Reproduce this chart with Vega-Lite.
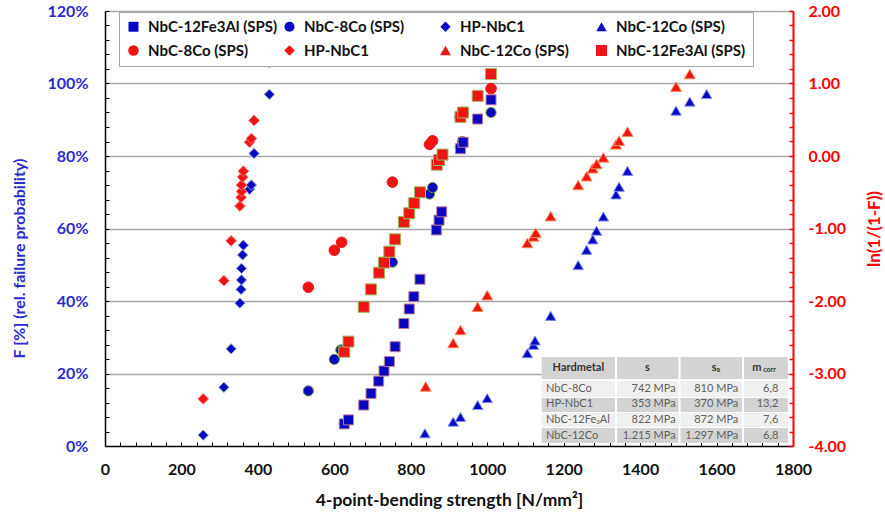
{
  "$schema": "https://vega.github.io/schema/vega-lite/v6.json",
  "width": 688,
  "height": 435,
  "autosize": {"type": "none"},
  "padding": {"left": 105, "top": 11, "right": 92, "bottom": 69},
  "background": "white",
  "config": {
    "view": {"stroke": null},
    "font": "Lato",
    "legend": {
      "orient": "none",
      "legendX": 14,
      "legendY": 1,
      "columns": 4,
      "direction": "horizontal",
      "gridAlign": "all",
      "columnPadding": 4,
      "rowPadding": 8,
      "padding": 7,
      "strokeColor": "#a6a6a6",
      "fillColor": "white",
      "labelFont": "Lato",
      "labelFontSize": 15,
      "labelFontWeight": "bold",
      "labelColor": "#111111",
      "labelOffset": 7,
      "symbolSize": 64,
      "symbolStrokeWidth": 0,
      "title": null
    }
  },
  "datasets": {
    "pts": [
      {"s": "B|HP-NbC1", "x": 257, "v": 3.0},
      {"s": "B|HP-NbC1", "x": 311, "v": 16.2},
      {"s": "B|HP-NbC1", "x": 330, "v": 26.8},
      {"s": "B|HP-NbC1", "x": 353, "v": 39.4},
      {"s": "B|HP-NbC1", "x": 356, "v": 43.2},
      {"s": "B|HP-NbC1", "x": 357, "v": 45.8},
      {"s": "B|HP-NbC1", "x": 357, "v": 49.0},
      {"s": "B|HP-NbC1", "x": 360, "v": 52.7},
      {"s": "B|HP-NbC1", "x": 362, "v": 55.4},
      {"s": "B|HP-NbC1", "x": 378, "v": 70.8},
      {"s": "B|HP-NbC1", "x": 383, "v": 72.0},
      {"s": "B|HP-NbC1", "x": 390, "v": 80.7},
      {"s": "B|HP-NbC1", "x": 430, "v": 97.0},
      {"s": "B|NbC-8Co (SPS)", "x": 532, "v": 15.2},
      {"s": "B|NbC-8Co (SPS)", "x": 600, "v": 23.9},
      {"s": "B|NbC-8Co (SPS)", "x": 617, "v": 26.5},
      {"s": "B|NbC-8Co (SPS)", "x": 752, "v": 50.7},
      {"s": "B|NbC-8Co (SPS)", "x": 849, "v": 69.5},
      {"s": "B|NbC-8Co (SPS)", "x": 857, "v": 71.3},
      {"s": "B|NbC-8Co (SPS)", "x": 929, "v": 82.5},
      {"s": "B|NbC-8Co (SPS)", "x": 935, "v": 84.0},
      {"s": "B|NbC-8Co (SPS)", "x": 1010, "v": 92.0},
      {"s": "B|NbC-12Fe3Al (SPS)", "x": 626, "v": 6.1},
      {"s": "B|NbC-12Fe3Al (SPS)", "x": 637, "v": 7.2},
      {"s": "B|NbC-12Fe3Al (SPS)", "x": 677, "v": 11.3},
      {"s": "B|NbC-12Fe3Al (SPS)", "x": 696, "v": 14.5},
      {"s": "B|NbC-12Fe3Al (SPS)", "x": 716, "v": 17.9},
      {"s": "B|NbC-12Fe3Al (SPS)", "x": 730, "v": 20.7},
      {"s": "B|NbC-12Fe3Al (SPS)", "x": 744, "v": 23.3},
      {"s": "B|NbC-12Fe3Al (SPS)", "x": 759, "v": 27.4},
      {"s": "B|NbC-12Fe3Al (SPS)", "x": 782, "v": 33.8},
      {"s": "B|NbC-12Fe3Al (SPS)", "x": 796, "v": 37.8},
      {"s": "B|NbC-12Fe3Al (SPS)", "x": 808, "v": 41.2},
      {"s": "B|NbC-12Fe3Al (SPS)", "x": 824, "v": 46.0},
      {"s": "B|NbC-12Fe3Al (SPS)", "x": 867, "v": 59.6},
      {"s": "B|NbC-12Fe3Al (SPS)", "x": 874, "v": 62.3},
      {"s": "B|NbC-12Fe3Al (SPS)", "x": 881, "v": 64.6},
      {"s": "B|NbC-12Fe3Al (SPS)", "x": 930, "v": 82.0},
      {"s": "B|NbC-12Fe3Al (SPS)", "x": 937, "v": 83.8},
      {"s": "B|NbC-12Fe3Al (SPS)", "x": 975, "v": 90.2},
      {"s": "B|NbC-12Fe3Al (SPS)", "x": 1010, "v": 95.5},
      {"s": "B|NbC-12Co (SPS)", "x": 837, "v": 3.5},
      {"s": "B|NbC-12Co (SPS)", "x": 911, "v": 6.7},
      {"s": "B|NbC-12Co (SPS)", "x": 930, "v": 8.0},
      {"s": "B|NbC-12Co (SPS)", "x": 975, "v": 11.3},
      {"s": "B|NbC-12Co (SPS)", "x": 1000, "v": 13.2},
      {"s": "B|NbC-12Co (SPS)", "x": 1105, "v": 25.6},
      {"s": "B|NbC-12Co (SPS)", "x": 1121, "v": 27.9},
      {"s": "B|NbC-12Co (SPS)", "x": 1125, "v": 29.1},
      {"s": "B|NbC-12Co (SPS)", "x": 1166, "v": 35.9},
      {"s": "B|NbC-12Co (SPS)", "x": 1238, "v": 49.9},
      {"s": "B|NbC-12Co (SPS)", "x": 1260, "v": 54.1},
      {"s": "B|NbC-12Co (SPS)", "x": 1276, "v": 57.0},
      {"s": "B|NbC-12Co (SPS)", "x": 1286, "v": 59.4},
      {"s": "B|NbC-12Co (SPS)", "x": 1304, "v": 63.3},
      {"s": "B|NbC-12Co (SPS)", "x": 1337, "v": 69.4},
      {"s": "B|NbC-12Co (SPS)", "x": 1345, "v": 71.5},
      {"s": "B|NbC-12Co (SPS)", "x": 1367, "v": 75.9},
      {"s": "B|NbC-12Co (SPS)", "x": 1494, "v": 92.5},
      {"s": "B|NbC-12Co (SPS)", "x": 1530, "v": 95.0},
      {"s": "B|NbC-12Co (SPS)", "x": 1574, "v": 97.1},
      {"s": "R|HP-NbC1", "x": 257, "v": -3.35},
      {"s": "R|HP-NbC1", "x": 311, "v": -1.72},
      {"s": "R|HP-NbC1", "x": 330, "v": -1.17},
      {"s": "R|HP-NbC1", "x": 353, "v": -0.69},
      {"s": "R|HP-NbC1", "x": 356, "v": -0.57},
      {"s": "R|HP-NbC1", "x": 357, "v": -0.49},
      {"s": "R|HP-NbC1", "x": 357, "v": -0.40},
      {"s": "R|HP-NbC1", "x": 360, "v": -0.29},
      {"s": "R|HP-NbC1", "x": 362, "v": -0.21},
      {"s": "R|HP-NbC1", "x": 378, "v": 0.19},
      {"s": "R|HP-NbC1", "x": 383, "v": 0.24},
      {"s": "R|HP-NbC1", "x": 390, "v": 0.49},
      {"s": "R|HP-NbC1", "x": 430, "v": 1.29},
      {"s": "R|NbC-8Co (SPS)", "x": 532, "v": -1.81},
      {"s": "R|NbC-8Co (SPS)", "x": 600, "v": -1.30},
      {"s": "R|NbC-8Co (SPS)", "x": 619, "v": -1.19},
      {"s": "R|NbC-8Co (SPS)", "x": 752, "v": -0.36},
      {"s": "R|NbC-8Co (SPS)", "x": 849, "v": 0.16},
      {"s": "R|NbC-8Co (SPS)", "x": 857, "v": 0.21},
      {"s": "R|NbC-8Co (SPS)", "x": 929, "v": 0.54},
      {"s": "R|NbC-8Co (SPS)", "x": 935, "v": 0.60},
      {"s": "R|NbC-8Co (SPS)", "x": 1010, "v": 0.93},
      {"s": "R|NbC-12Fe3Al (SPS)", "x": 626, "v": -2.70},
      {"s": "R|NbC-12Fe3Al (SPS)", "x": 637, "v": -2.56},
      {"s": "R|NbC-12Fe3Al (SPS)", "x": 677, "v": -2.08},
      {"s": "R|NbC-12Fe3Al (SPS)", "x": 696, "v": -1.84},
      {"s": "R|NbC-12Fe3Al (SPS)", "x": 717, "v": -1.61},
      {"s": "R|NbC-12Fe3Al (SPS)", "x": 730, "v": -1.47},
      {"s": "R|NbC-12Fe3Al (SPS)", "x": 744, "v": -1.32},
      {"s": "R|NbC-12Fe3Al (SPS)", "x": 759, "v": -1.15},
      {"s": "R|NbC-12Fe3Al (SPS)", "x": 782, "v": -0.91},
      {"s": "R|NbC-12Fe3Al (SPS)", "x": 796, "v": -0.79},
      {"s": "R|NbC-12Fe3Al (SPS)", "x": 809, "v": -0.65},
      {"s": "R|NbC-12Fe3Al (SPS)", "x": 824, "v": -0.50},
      {"s": "R|NbC-12Fe3Al (SPS)", "x": 868, "v": -0.12},
      {"s": "R|NbC-12Fe3Al (SPS)", "x": 874, "v": -0.055},
      {"s": "R|NbC-12Fe3Al (SPS)", "x": 883, "v": 0.02},
      {"s": "R|NbC-12Fe3Al (SPS)", "x": 930, "v": 0.54},
      {"s": "R|NbC-12Fe3Al (SPS)", "x": 937, "v": 0.60},
      {"s": "R|NbC-12Fe3Al (SPS)", "x": 975, "v": 0.83},
      {"s": "R|NbC-12Fe3Al (SPS)", "x": 1010, "v": 1.13},
      {"s": "R|NbC-12Co (SPS)", "x": 839, "v": -3.18},
      {"s": "R|NbC-12Co (SPS)", "x": 911, "v": -2.58},
      {"s": "R|NbC-12Co (SPS)", "x": 930, "v": -2.40},
      {"s": "R|NbC-12Co (SPS)", "x": 975, "v": -2.08},
      {"s": "R|NbC-12Co (SPS)", "x": 1000, "v": -1.92},
      {"s": "R|NbC-12Co (SPS)", "x": 1105, "v": -1.20},
      {"s": "R|NbC-12Co (SPS)", "x": 1121, "v": -1.11},
      {"s": "R|NbC-12Co (SPS)", "x": 1127, "v": -1.06},
      {"s": "R|NbC-12Co (SPS)", "x": 1166, "v": -0.83},
      {"s": "R|NbC-12Co (SPS)", "x": 1238, "v": -0.40},
      {"s": "R|NbC-12Co (SPS)", "x": 1260, "v": -0.28},
      {"s": "R|NbC-12Co (SPS)", "x": 1276, "v": -0.17},
      {"s": "R|NbC-12Co (SPS)", "x": 1286, "v": -0.11},
      {"s": "R|NbC-12Co (SPS)", "x": 1304, "v": -0.02},
      {"s": "R|NbC-12Co (SPS)", "x": 1337, "v": 0.16},
      {"s": "R|NbC-12Co (SPS)", "x": 1345, "v": 0.21},
      {"s": "R|NbC-12Co (SPS)", "x": 1367, "v": 0.335},
      {"s": "R|NbC-12Co (SPS)", "x": 1494, "v": 0.956},
      {"s": "R|NbC-12Co (SPS)", "x": 1530, "v": 1.13},
      {"s": "R|NbC-12Co (SPS)", "x": 1574, "v": 1.32}
    ],
    "cells": [
      {"kind": "head", "x": 1142.5, "x2": 1786.8, "v": 18.48, "v2": 24.55},
      {"kind": "light", "x": 1142.5, "x2": 1786.8, "v": 13.52, "v2": 17.93},
      {"kind": "dark", "x": 1142.5, "x2": 1786.8, "v": 9.38, "v2": 13.24},
      {"kind": "light", "x": 1142.5, "x2": 1786.8, "v": 5.24, "v2": 9.10},
      {"kind": "dark", "x": 1142.5, "x2": 1786.8, "v": 0.83, "v2": 4.97}
    ],
    "seps": [
      {"x": 1336.9, "v": 0.83, "v2": 24.55},
      {"x": 1503.1, "v": 0.83, "v2": 24.55},
      {"x": 1669.2, "v": 0.83, "v2": 24.55}
    ],
    "tab": [
      {"t": "Hardmetal", "x": 1238.4, "v": 21.5, "k": "head"},
      {"t": "s", "x": 1419.3, "v": 21.5, "k": "head"},
      {"t": "s₀", "x": 1598.5, "v": 21.5, "k": "head"},
      {"t": "m", "x": 1705.5, "v": 21.5, "k": "head"},
      {"t": "corr", "x": 1738.5, "v": 20.9, "k": "sub"},
      {"t": "NbC-8Co", "x": 1153.8, "v": 15.64, "k": "name"},
      {"t": "HP-NbC1", "x": 1153.8, "v": 11.5, "k": "name"},
      {"t": "NbC-12Fe₃Al", "x": 1153.8, "v": 7.17, "k": "name"},
      {"t": "NbC-12Co", "x": 1153.8, "v": 2.84, "k": "name"},
      {"t": "742 MPa", "x": 1493.1, "v": 15.64, "k": "num"},
      {"t": "353 MPa", "x": 1493.1, "v": 11.5, "k": "num"},
      {"t": "822 MPa", "x": 1493.1, "v": 7.17, "k": "num"},
      {"t": "1.215 MPa", "x": 1493.1, "v": 2.84, "k": "num"},
      {"t": "810 MPa", "x": 1656.9, "v": 15.64, "k": "num"},
      {"t": "370 MPa", "x": 1656.9, "v": 11.5, "k": "num"},
      {"t": "872 MPa", "x": 1656.9, "v": 7.17, "k": "num"},
      {"t": "1.297 MPa", "x": 1656.9, "v": 2.84, "k": "num"},
      {"t": "6,8", "x": 1761.5, "v": 15.64, "k": "num"},
      {"t": "13,2", "x": 1761.5, "v": 11.5, "k": "num"},
      {"t": "7,6", "x": 1761.5, "v": 7.17, "k": "num"},
      {"t": "6,8", "x": 1761.5, "v": 2.84, "k": "num"}
    ]
  },
  "encoding": {
    "x": {
      "field": "x", "type": "quantitative",
      "scale": {"domain": [0, 1800], "nice": false, "zero": false},
      "axis": {
        "values": [0,40,80,120,160,200,240,280,320,360,400,440,480,520,560,600,640,680,720,760,800,840,880,920,960,1000,1040,1080,1120,1160,1200,1240,1280,1320,1360,1400,1440,1480,1520,1560,1600,1640,1680,1720,1760,1800],
        "labelExpr": "datum.value % 200 == 0 ? format(datum.value, 'd') : ''",
        "grid": false,
        "domainColor": "#000000", "domainWidth": 1.5,
        "tickColor": "#000000", "tickSize": -4, "tickWidth": 1,
        "labelPadding": 19, "labelFont": "Lato", "labelFontSize": 16, "labelFontWeight": "bold", "labelColor": "#111111",
        "labelFlush": false, "labelOverlap": false,
        "title": "4-point-bending strength [N/mm²]",
        "titleFont": "Lato", "titleFontSize": 17.5, "titleFontWeight": "bold", "titleColor": "#111111",
        "titleX": 344, "titleY": 54, "titleAlign": "center", "titleBaseline": "middle"
      }
    }
  },
  "layer": [
    {
      "encoding": {
        "y": {
          "field": "v", "type": "quantitative",
          "scale": {"domain": [0, 120], "nice": false, "zero": false},
          "axis": {
            "values": [0,4,8,12,16,20,24,28,32,36,40,44,48,52,56,60,64,68,72,76,80,84,88,92,96,100,104,108,112,116,120],
            "labelExpr": "datum.value % 20 == 0 ? datum.value + '%' : ''",
            "grid": true, "gridColor": "#a6a6a6", "gridWidth": 1.5,
            "gridOpacity": {"condition": {"test": "datum.value % 20 == 0 && datum.value > 0", "value": 1}, "value": 0},
            "domainColor": "#000000", "domainWidth": 1.5,
            "tickColor": "#000000", "tickSize": -4, "tickWidth": 1,
            "labelPadding": 21, "labelFont": "Lato", "labelFontSize": 16, "labelFontWeight": "bold", "labelColor": "#2b2bd0",
            "labelOverlap": false, "labelFlush": false,
            "title": "F [%]  (rel. failure probability)",
            "titleFont": "Lato", "titleFontSize": 16, "titleFontWeight": "bold", "titleColor": "#2b2bd0",
            "titleX": -86, "titleY": 247, "titleAngle": -90, "titleBaseline": "middle", "titleAlign": "center"
          }
        }
      },
      "layer": [
        {
          "data": {"name": "pts"},
          "transform": [{"filter": "indexof(datum.s, 'B|') == 0"}, {"calculate": "datum.s", "as": "mk"}],
          "mark": {"type": "point", "filled": true, "opacity": 1, "strokeWidth": 1},
          "encoding": {
            "color": {
              "field": "s", "type": "nominal",
              "scale": {
                "domain": ["B|NbC-12Fe3Al (SPS)", "B|NbC-8Co (SPS)", "B|HP-NbC1", "B|NbC-12Co (SPS)", "R|NbC-8Co (SPS)", "R|HP-NbC1", "R|NbC-12Co (SPS)", "R|NbC-12Fe3Al (SPS)"],
                "range": ["#0808c0", "#0808c0", "#0808c0", "#0808c0", "#f01414", "#f01414", "#f01414", "#f01414"]
              },
              "legend": {"labelExpr": "substring(datum.value, 2)"}
            },
            "shape": {
              "field": "s", "type": "nominal",
              "scale": {
                "domain": ["B|NbC-12Fe3Al (SPS)", "B|NbC-8Co (SPS)", "B|HP-NbC1", "B|NbC-12Co (SPS)", "R|NbC-8Co (SPS)", "R|HP-NbC1", "R|NbC-12Co (SPS)", "R|NbC-12Fe3Al (SPS)"],
                "range": ["square", "circle", "diamond", "triangle-up", "circle", "diamond", "triangle-up", "square"]
              },
              "legend": {"labelExpr": "substring(datum.value, 2)"}
            },
            "stroke": {
              "field": "mk", "type": "nominal",
              "scale": {
                "domain": ["B|NbC-12Fe3Al (SPS)", "B|NbC-8Co (SPS)", "B|HP-NbC1", "B|NbC-12Co (SPS)", "R|NbC-8Co (SPS)", "R|HP-NbC1", "R|NbC-12Co (SPS)", "R|NbC-12Fe3Al (SPS)"],
                "range": ["#c07a9a", "#6f8f3f", "#8fa0d8", "#7f8fff", "#f01414", "#f07a7a", "#ff8a50", "#9bbb59"]
              },
              "legend": null
            },
            "size": {
              "field": "mk", "type": "nominal",
              "scale": {
                "domain": ["B|NbC-12Fe3Al (SPS)", "B|NbC-8Co (SPS)", "B|HP-NbC1", "B|NbC-12Co (SPS)", "R|NbC-8Co (SPS)", "R|HP-NbC1", "R|NbC-12Co (SPS)", "R|NbC-12Fe3Al (SPS)"],
                "range": [100, 121, 100, 110, 160, 81, 120, 56]
              },
              "legend": null
            }
          }
        },
        {
          "data": {"name": "cells"},
          "mark": {"type": "rect"},
          "encoding": {
            "x2": {"field": "x2"},
            "y2": {"field": "v2"},
            "fill": {
              "field": "kind", "type": "nominal",
              "scale": {"domain": ["head", "light", "dark"], "range": ["#d3d3d3", "#f0f0f0", "#d3d3d3"]},
              "legend": null
            }
          }
        },
        {
          "data": {"name": "seps"},
          "mark": {"type": "rule", "color": "white", "strokeWidth": 2},
          "encoding": {
            "y2": {"field": "v2"}
          }
        },
        {
          "data": {"name": "tab"},
          "transform": [{"filter": "datum.k == 'head'"}],
          "mark": {"type": "text", "align": "center", "baseline": "middle", "font": "Lato", "fontSize": 11, "fontWeight": "bold", "color": "#333333"},
          "encoding": {"text": {"field": "t"}}
        },
        {
          "data": {"name": "tab"},
          "transform": [{"filter": "datum.k == 'sub'"}],
          "mark": {"type": "text", "align": "center", "baseline": "middle", "font": "Lato", "fontSize": 7, "fontWeight": "bold", "color": "#333333"},
          "encoding": {"text": {"field": "t"}}
        },
        {
          "data": {"name": "tab"},
          "transform": [{"filter": "datum.k == 'name'"}],
          "mark": {"type": "text", "align": "left", "baseline": "middle", "font": "Lato", "fontSize": 11, "color": "#5f5f5f"},
          "encoding": {"text": {"field": "t"}}
        },
        {
          "data": {"name": "tab"},
          "transform": [{"filter": "datum.k == 'num'"}],
          "mark": {"type": "text", "align": "right", "baseline": "middle", "font": "Lato", "fontSize": 11, "color": "#5f5f5f"},
          "encoding": {"text": {"field": "t"}}
        }
      ]
    },
    {
      "data": {"name": "pts"},
      "transform": [{"filter": "indexof(datum.s, 'R|') == 0"}, {"calculate": "datum.s", "as": "mk"}],
      "mark": {"type": "point", "filled": true, "opacity": 1, "strokeWidth": 1},
      "encoding": {
        "y": {
          "field": "v", "type": "quantitative",
          "scale": {"domain": [-4, 2], "nice": false, "zero": false},
          "axis": {
            "orient": "right",
            "values": [-4,-3.8,-3.6,-3.4,-3.2,-3,-2.8,-2.6,-2.4,-2.2,-2,-1.8,-1.6,-1.4,-1.2,-1,-0.8,-0.6,-0.4,-0.2,0,0.2,0.4,0.6,0.8,1,1.2,1.4,1.6,1.8,2],
            "labelExpr": "abs(datum.value - round(datum.value)) < 0.001 ? (datum.value < 0 ? '-' : '') + format(abs(datum.value), '.2f') : ''",
            "grid": false,
            "domainColor": "#ff0000", "domainWidth": 2,
            "tickColor": "#ff0000", "tickSize": -4, "tickWidth": 1.5,
            "labelPadding": 19, "labelFont": "Lato", "labelFontSize": 16, "labelFontWeight": "bold", "labelColor": "#ff0000",
            "labelOverlap": false, "labelFlush": false,
            "title": "ln(1/(1-F))",
            "titleFont": "Lato", "titleFontSize": 17, "titleFontWeight": "bold", "titleColor": "#ff0000",
            "titleX": 81, "titleY": 217.5, "titleAngle": -90, "titleBaseline": "middle", "titleAlign": "center"
          }
        },
        "color": {"field": "s", "type": "nominal"},
        "shape": {"field": "s", "type": "nominal"},
        "stroke": {"field": "mk", "type": "nominal", "legend": null},
        "size": {"field": "mk", "type": "nominal", "legend": null}
      }
    }
  ],
  "resolve": {"scale": {"y": "independent"}}
}
